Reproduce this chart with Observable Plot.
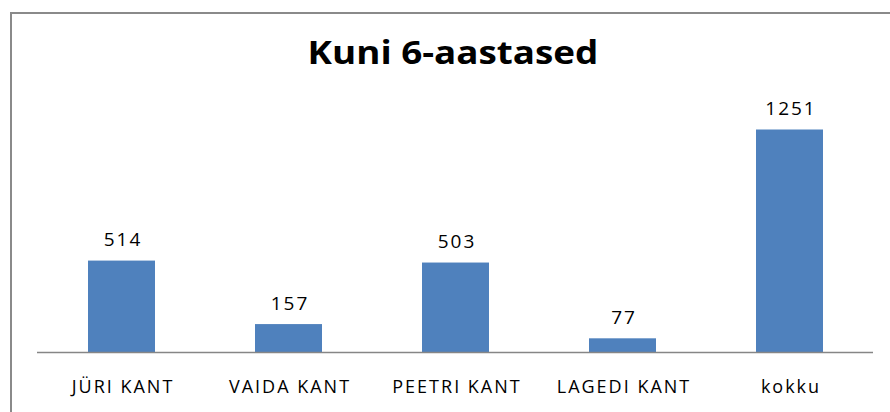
<!DOCTYPE html>
<html>
<head>
<meta charset="utf-8">
<script src="https://cdn.jsdelivr.net/npm/d3@7"></script>
<script src="https://cdn.jsdelivr.net/npm/@observablehq/plot@0.6"></script>
<style>
  html, body { margin: 0; padding: 0; background: #fff; }
  #wrap { position: relative; width: 890px; height: 412px; overflow: hidden; background: #fff; }
  #frame { position: absolute; left: 10px; top: 12px; width: 900px; height: 420px;
           border-top: 2px solid #8a8a8a; border-left: 2px solid #8a8a8a; box-sizing: border-box; }
  #title { position: absolute; left: 0; width: 906px; top: 30px; text-align: center;
           font-family: "Open Sans", "Liberation Sans", sans-serif; font-weight: bold; font-size: 32px;
           line-height: 1.362; color: #000; transform: scaleX(1.15); transform-origin: 453px 0; }
  #chart { position: absolute; left: 0; top: 0; }
  #chart g[aria-label="x-axis tick label"] text { letter-spacing: 2px; }
</style>
</head>
<body>
<div id="wrap">
  <div id="frame"></div>
  <div id="chart"></div>
  <div id="title">Kuni 6-aastased</div>
</div>
<script>
const categories = ["JÜRI KANT", "VAIDA KANT", "PEETRI KANT", "LAGEDI KANT", "kokku"];
const values = [514, 157, 503, 77, 1251];

const data = categories.map((c, i) => ({category: c, value: values[i]}));

const chart = Plot.plot({
  width: 890,
  height: 412,
  marginLeft: 37,
  marginRight: 17,
  marginTop: 103,
  marginBottom: 60,
  style: {fontFamily: "'Open Sans', 'Liberation Sans', sans-serif", fontSize: "18px", color: "#000", background: "transparent"},
  x: {domain: categories, paddingInner: 0.6, paddingOuter: 0.3, label: null},
  y: {domain: [0, 1400], axis: null},
  marks: [
    Plot.barY(data, {x: "category", y: "value", fill: "#4F81BD"}),
    Plot.axisX({tickSize: 0, tickPadding: 28, fontSize: 18, label: null, fill: "#000", dx: 1}),
    Plot.ruleY([0], {stroke: "#868686", strokeWidth: 1.5}),
    Plot.text(data, {x: "category", y: "value", text: d => String(d.value), dy: -21, dx: 1, fontSize: 19, fill: "#000"})
  ]
});
d3.select(chart).selectAll("g[aria-label='text'] text").style("letter-spacing", "2px");
document.getElementById("chart").appendChild(chart);
</script>
</body>
</html>
